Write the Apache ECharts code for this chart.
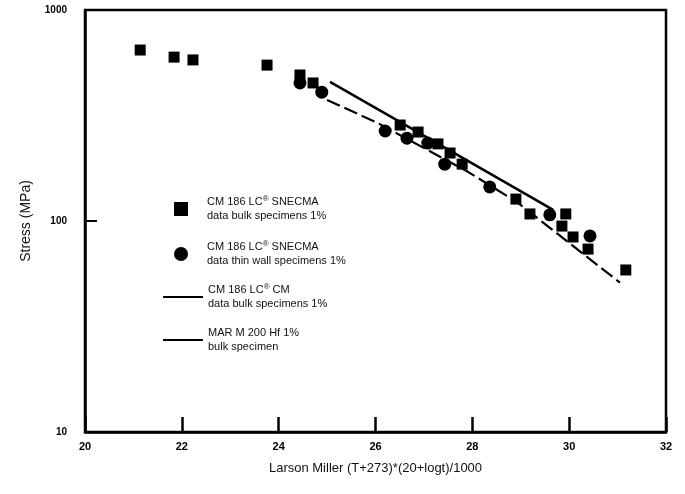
<!DOCTYPE html>
<html>
<head>
<meta charset="utf-8">
<script src="https://cdn.jsdelivr.net/npm/echarts@6/dist/echarts.min.js"></script>
<style>
  html, body { margin: 0; padding: 0; background: #fff; }
  #chart { width: 685px; height: 494px; }
</style>
</head>
<body>
<div id="chart"></div>
<script>
const FONT = '"Liberation Sans", Arial, Helvetica, sans-serif';

// Axis ticks
const xTicks = [20, 22, 24, 26, 28, 30, 32];
const yTicks = [10, 100, 1000];

// CM 186 LC (SNECMA), bulk specimens: Larson-Miller parameter and stress (MPa)
const bulkLM     = [21.14, 21.84, 22.23, 23.76, 24.44, 24.71, 26.51, 26.88, 27.29, 27.54, 27.79, 28.90, 29.19, 29.93, 29.85, 30.08, 30.39, 31.17];
const bulkStress = [646,   598,   580,   548,   492,   451,   285,   264,   232,   210,   186,   127,   108,   108,   94.6,  84,    73.6,  58.6];

// CM 186 LC (SNECMA), thin wall specimens
const thinLM     = [24.44, 24.89, 26.20, 26.65, 27.08, 27.43, 28.36, 29.60, 30.43];
const thinStress = [451,   408,   267,   247,   234,   186,   145,   107,   85];

// CM 186 LC (CM) bulk specimen trend
const cmLineLM     = [25.06, 26.36, 29.67];
const cmLineStress = [456,   308,   113];

// MAR M 200 Hf bulk specimen trend
const marLineLM     = [25.00, 26.05, 27.91, 28.94, 31.05];
const marLineStress = [375,   291,   171,   122,   51];

const pairs = (xs, ys) => xs.map((x, i) => [x, ys[i]]);

const SER_BULK = 'snecmaBulk';
const SER_THIN = 'snecmaThin';
const SER_CM = 'cmBulk';
const SER_MAR = 'marM200';

const legendText = {
  [SER_BULK]: 'CM 186 LC{sup|®} SNECMA\ndata bulk specimens 1%',
  [SER_THIN]: 'CM 186 LC{sup|®} SNECMA\ndata thin wall specimens 1%',
  [SER_CM]:   'CM 186 LC{sup|®} CM\ndata bulk specimens 1%',
  [SER_MAR]:  'MAR M 200 Hf 1%\nbulk specimen'
};

const legendTextStyle = (padLeft) => ({
  fontFamily: FONT,
  fontSize: 11,
  color: '#111',
  lineHeight: 14,
  padding: [0, 0, 0, padLeft],
  rich: {
    sup: { fontSize: 8, fontFamily: FONT, color: '#111', verticalAlign: 'top', lineHeight: 14, padding: [0, 0, 5, 0] }
  }
});

const chart = echarts.init(document.getElementById('chart'), null, { renderer: 'canvas' });

chart.setOption({
  animation: false,
  backgroundColor: '#fff',
  textStyle: { fontFamily: FONT },
  grid: {
    left: 85, right: 19, top: 10, bottom: 62,
    show: true, borderColor: '#000', borderWidth: 2.5
  },
  xAxis: {
    type: 'value',
    min: xTicks[0], max: xTicks[xTicks.length - 1],
    interval: xTicks[1] - xTicks[0],
    axisLine: { show: true, lineStyle: { color: '#000', width: 2.5 } },
    axisTick: { show: true, inside: true, length: 15, lineStyle: { color: '#000', width: 2.5 } },
    axisLabel: { color: '#000', fontSize: 11, fontWeight: 'bold', fontFamily: FONT, margin: 9 },
    splitLine: { show: false },
    name: 'Larson Miller (T+273)*(20+logt)/1000',
    nameLocation: 'middle',
    nameGap: 30,
    nameTextStyle: { color: '#111', fontSize: 13, fontFamily: FONT }
  },
  yAxis: {
    type: 'log',
    logBase: 10,
    min: yTicks[0], max: yTicks[yTicks.length - 1],
    axisLine: { show: true, lineStyle: { color: '#000', width: 2.5 } },
    axisTick: { show: true, inside: true, length: 12, lineStyle: { color: '#000', width: 2 } },
    axisLabel: { color: '#000', fontSize: 10, fontWeight: 'bold', fontFamily: FONT, margin: 18,
                 formatter: v => String(Math.round(v)) },
    minorTick: { show: false },
    splitLine: { show: false },
    name: 'Stress (MPa)',
    nameLocation: 'middle',
    nameGap: 52,
    nameTextStyle: { color: '#111', fontSize: 14, fontFamily: FONT }
  },
  legend: [
    {
      orient: 'vertical',
      left: 169, top: 190,
      itemWidth: 14, itemHeight: 14,
      itemGap: 17,
      selectedMode: false,
      data: [
        { name: SER_BULK, icon: 'rect' },
        { name: SER_THIN, icon: 'circle' }
      ],
      formatter: n => legendText[n],
      textStyle: legendTextStyle(14)
    },
    {
      orient: 'vertical',
      left: 158, top: 278,
      itemWidth: 40, itemHeight: 2,
      itemGap: 15,
      selectedMode: false,
      data: [
        { name: SER_CM, icon: 'rect', itemStyle: { color: '#000' } },
        { name: SER_MAR, icon: 'rect', itemStyle: { color: '#000' } }
      ],
      formatter: n => legendText[n],
      textStyle: legendTextStyle(0)
    }
  ],
  series: [
    {
      name: SER_CM,
      type: 'line',
      data: pairs(cmLineLM, cmLineStress),
      symbol: 'none',
      lineStyle: { color: '#000', width: 2.5, type: 'solid' },
      itemStyle: { color: '#000' },
      z: 2
    },
    {
      name: SER_MAR,
      type: 'line',
      data: pairs(marLineLM, marLineStress),
      symbol: 'none',
      lineStyle: { color: '#000', width: 2.2, type: [14, 5] },
      itemStyle: { color: '#000' },
      z: 2
    },
    {
      name: SER_BULK,
      type: 'scatter',
      symbol: 'rect',
      symbolSize: 11,
      data: pairs(bulkLM, bulkStress),
      itemStyle: { color: '#000', opacity: 1 },
      z: 3
    },
    {
      name: SER_THIN,
      type: 'scatter',
      symbol: 'circle',
      symbolSize: 13,
      data: pairs(thinLM, thinStress),
      itemStyle: { color: '#000', opacity: 1 },
      z: 3
    }
  ]
});
</script>
</body>
</html>
